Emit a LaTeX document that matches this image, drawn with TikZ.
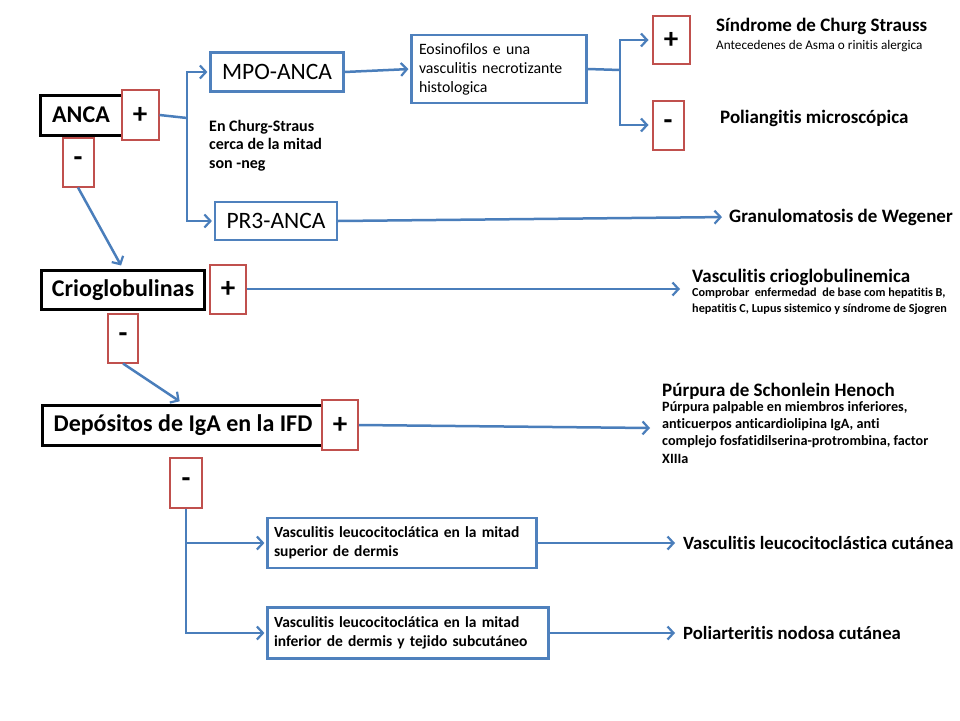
\documentclass[tikz,border=0pt]{standalone}
\usepackage{fontspec}
\setmainfont[Ligatures=NoCommon]{Carlito}
\usetikzlibrary{arrows.meta}
\definecolor{lblue}{HTML}{4A7EBB}
\definecolor{bblue}{HTML}{4F81BD}
\definecolor{rred}{HTML}{C0504D}
\newcommand{\fsz}[2]{\fontsize{#1pt}{#2pt}\selectfont}
\tikzset{
  blackbox/.style={draw=black, line width=3pt, fill=white, inner sep=0pt, font=\bfseries\fsz{24}{28}},
  redbox/.style={draw=rred, line width=2pt, fill=white, inner sep=0pt, font=\bfseries\fsz{29}{32}},
  bluebox/.style={draw=bblue, line width=2.2pt, fill=white, inner sep=0pt},
  conn/.style={draw=lblue, line width=2.5pt},
  arr/.style={conn, -{Straight Barb[length=6pt,width=13pt,line width=2.2pt]}},
  lbl/.style={inner sep=0pt, anchor=west, align=left}
}
\begin{document}
\begin{tikzpicture}[x=1pt,y=-1pt]
\useasboundingbox[fill=white] (0,0) rectangle (960,720);

% ANCA level
\node[blackbox, minimum width=82, minimum height=40] (anca) at (81,115) {ANCA};
\node[redbox, minimum width=37, minimum height=50] (ancaplus) at (140,115) {+};
\node[redbox, minimum width=31, minimum height=49] (ancaminus) at (78,162) {-};

\node[bluebox, minimum width=133, minimum height=39, font=\fsz{23.5}{28}] (mpo) at (277,72) {MPO-ANCA};
\node[bluebox, minimum width=122, minimum height=38, font=\fsz{23.5}{28}] (pr3) at (276,221) {PR3-ANCA};
\node[inner sep=0pt, anchor=north west, align=left, font=\bfseries\fsz{16}{18.5}] (note) at (209,120) {En Churg-Straus\\cerca de la mitad\\son -neg};

\node[bluebox, minimum width=175, minimum height=68, text width=160, align=left, font=\fsz{15.8}{19}] (eos) at (499,69) {Eosinofilos e una\\vasculitis necrotizante\\histologica};

\node[redbox, minimum width=37, minimum height=48] (cplus) at (671,40) {+};
\node[redbox, minimum width=31, minimum height=49] (cminus) at (668,125) {-};
\node[lbl, font=\bfseries\fsz{19}{22}] (sind) at (716,26) {Síndrome de Churg Strauss};
\node[lbl, font=\fsz{13.2}{15}] (sindsub) at (716,46) {Antecedenes de Asma o rinitis alergica};
\node[lbl, font=\bfseries\fsz{19}{22}] (poli) at (720,118) {Poliangitis microscópica};
\node[lbl, font=\bfseries\fsz{19}{22}] (weg) at (729,217) {Granulomatosis de Wegener};

% Crioglobulinas level
\node[blackbox, minimum width=163, minimum height=39] (crio) at (123,290) {Crioglobulinas};
\node[redbox, minimum width=36, minimum height=49] (crioplus) at (228,289) {+};
\node[redbox, minimum width=30, minimum height=49] (criominus) at (123,338) {-};
\node[lbl, font=\bfseries\fsz{19}{22}] (vcrio) at (692,277) {Vasculitis crioglobulinemica};
\node[inner sep=0pt, anchor=north west, align=left, font=\bfseries\fsz{12.2}{15.5}] (vcriosub) at (692,288) {Comprobar \ enfermedad \ de base com hepatitis B,\\hepatitis C, Lupus sistemico y síndrome de Sjogren};

% IgA level
\node[blackbox, minimum width=281, minimum height=40] (dep) at (183,425) {Depósitos de IgA en la IFD};
\node[redbox, minimum width=36, minimum height=50] (depplus) at (340,425) {+};
\node[redbox, minimum width=32, minimum height=50] (depminus) at (186,483) {-};
\node[lbl, font=\bfseries\fsz{19}{22}] (purp) at (662,391) {Púrpura de Schonlein Henoch};
\node[inner sep=0pt, anchor=north west, align=left, font=\bfseries\fsz{14.2}{17.3}] (purpsub) at (662,401) {Púrpura palpable en miembros inferiores,\\anticuerpos anticardiolipina IgA, anti\\complejo fosfatidilserina-protrombina, factor\\XIIIa};
\coordinate (purpin) at (650,428);

\node[bluebox, minimum width=269, minimum height=50, text width=256, align=left, font=\bfseries\fsz{15.5}{19}] (vl1) at (402,543) {Vasculitis leucocitoclática en la mitad\\superior de dermis};
\node[bluebox, minimum width=281, minimum height=51, text width=268, align=left, font=\bfseries\fsz{15.5}{19}] (vl2) at (408,633) {Vasculitis leucocitoclática en la mitad\\inferior de dermis y tejido subcutáneo};
\node[lbl, font=\bfseries\fsz{18.7}{22}] (vlc) at (683,543) {Vasculitis leucocitoclástica cutánea};
\node[lbl, font=\bfseries\fsz{18.7}{22}] (pan) at (683,633) {Poliarteritis nodosa cutánea};

% connectors
\coordinate (t1) at (187,118);
\draw[conn] (ancaplus.east) -- (t1);
\draw[arr, shorten >=2pt] (t1) |- (mpo.west);
\draw[arr, shorten >=2pt] (t1) |- (pr3.west);
\draw[arr, shorten >=2pt] (mpo.east) -- (eos.west);
\coordinate (t2) at (620,70);
\draw[conn] (eos.east) -- (t2);
\draw[arr, shorten >=3pt] (t2) |- (cplus.west);
\draw[arr, shorten >=3pt] (t2) |- (cminus.west);
\draw[arr, shorten >=7pt] (pr3.east) -- (weg.west);

\draw[arr, shorten >=4pt] (ancaminus.south) -- (crio.north);
\draw[arr, shorten >=12pt] (crioplus.east) -- (vcrio.west |- crioplus.east);
\draw[arr, shorten >=4pt] (criominus.south) -- (dep.north);
\draw[arr] (depplus.east) -- (purpin);

\draw[arr, shorten >=2pt] (depminus.south) |- (vl1.west);
\draw[arr, shorten >=2pt] (depminus.south) |- (vl2.west);
\draw[arr, shorten >=8pt] (vl1.east) -- (vlc.west);
\draw[arr, shorten >=8pt] (vl2.east) -- (pan.west);
\end{tikzpicture}
\end{document}
